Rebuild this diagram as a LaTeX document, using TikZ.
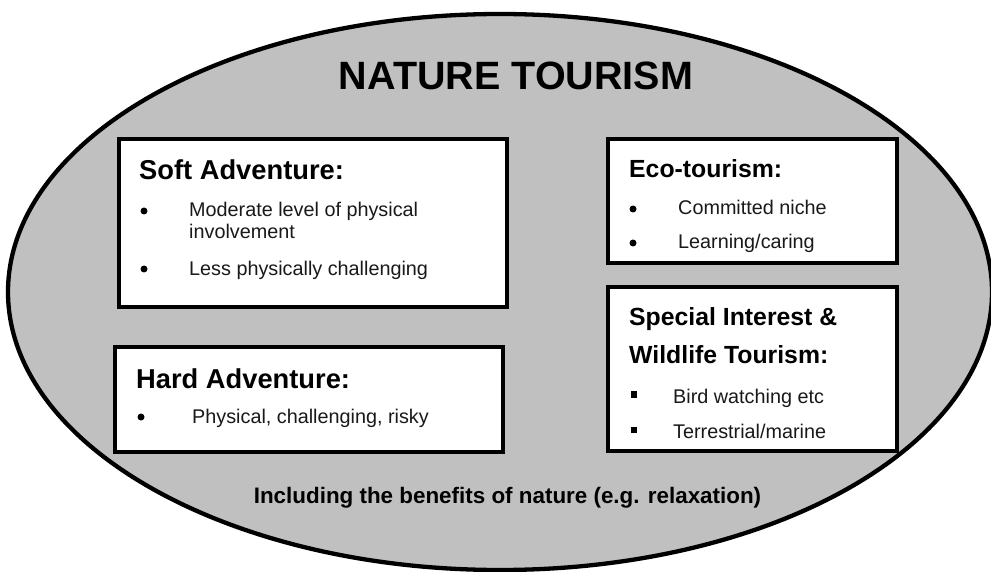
\documentclass[tikz,border=0pt]{standalone}
\usepackage{fontspec}
\setmainfont{Liberation Sans}
\definecolor{ellgray}{RGB}{192,192,192}
\definecolor{txt}{RGB}{25,25,25}
\begin{document}
\begin{tikzpicture}[x=1pt,y=-1pt,
  box/.style={draw=black, line width=4pt, fill=white, rectangle, inner sep=0pt, outer sep=0pt},
  headL/.style={anchor=base west, inner sep=0pt, font=\bfseries\fontsize{27.3}{30}\selectfont},
  headR/.style={anchor=base west, inner sep=0pt, font=\bfseries\fontsize{24.8}{28}\selectfont},
  body/.style={anchor=base west, inner sep=0pt, text=txt, font=\fontsize{19.8}{23}\selectfont},
  dot/.style={circle, fill=black, inner sep=0pt, minimum size=7pt},
  sq/.style={fill=black, inner sep=0pt, minimum size=6.5pt, rectangle}
]
\useasboundingbox (0,0) rectangle (991,572);
\begin{scope}
\clip (0,0) rectangle (991,572);
\draw[line width=4.3pt, fill=ellgray] (500,292) ellipse [x radius=492, y radius=278];
\end{scope}

\node[anchor=base, inner sep=0pt, font=\bfseries\fontsize{39.5}{44}\selectfont] (title) at (516,90) {NATURE TOURISM};

% Soft adventure
\node[box, minimum width=388, minimum height=168] (soft) at (313,223) {};
\node[headL] (softh) at (139,180) {Soft Adventure:};
\node[dot] (softd1) at (144,211) {};
\node[body] (soft1) at (189,217) {Moderate level of physical};
\node[body] (soft1b) at (189,239) {involvement};
\node[dot] (softd2) at (144,269) {};
\node[body] (soft2) at (189,276) {Less physically challenging};

% Hard adventure
\node[box, minimum width=388, minimum height=105] (hard) at (309,399.5) {};
\node[headL] (hardh) at (136,388) {Hard Adventure:};
\node[dot] (hardd1) at (141,417) {};
\node[body] (hard1) at (192,423) {Physical, challenging, risky};

% Eco-tourism
\node[box, minimum width=289, minimum height=124] (eco) at (752.5,201) {};
\node[headR] (ecoh) at (629,178) {Eco-tourism:};
\node[dot] (ecod1) at (633,209) {};
\node[body] (eco1) at (678,215) {Committed niche};
\node[dot] (ecod2) at (633,243) {};
\node[body] (eco2) at (678,249) {Learning/caring};

% Special interest
\node[box, minimum width=289, minimum height=164] (spec) at (752.5,369) {};
\node[headR] (spech1) at (629,325) {Special Interest \&};
\node[headR] (spech2) at (629,363) {Wildlife Tourism:};
\node[sq] (specd1) at (634,394.5) {};
\node[body] (spec1) at (673,403) {Bird watching etc};
\node[sq] (specd2) at (634,430) {};
\node[body] (spec2) at (673,438) {Terrestrial/marine};

\node[anchor=base, inner sep=0pt, font=\bfseries\fontsize{22.4}{26}\selectfont] (foot) at (507.5,503) {Including the benefits of nature (e.g. relaxation)};
\end{tikzpicture}
\end{document}
